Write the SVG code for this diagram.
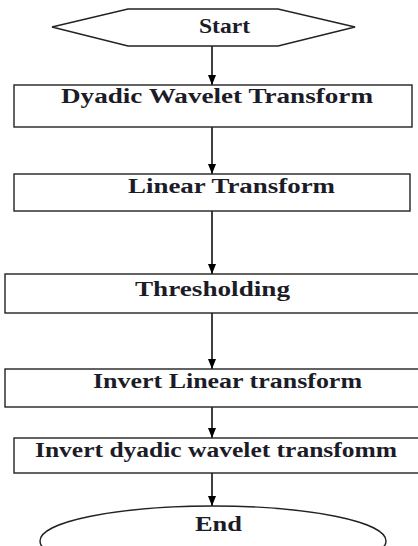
<svg xmlns="http://www.w3.org/2000/svg" width="418" height="546" viewBox="0 0 418 546">
<defs>
<marker id="ah" markerWidth="10" markerHeight="8" refX="10" refY="4" orient="auto" markerUnits="userSpaceOnUse">
<path d="M0,0 L10,4 L0,8 Z" fill="#000"/>
</marker>
<style>
.s{fill:#fff;stroke:#222;stroke-width:1.4}
.t{font-weight:bold;font-size:20px;fill:#1c1c28}
.c{stroke:#000;stroke-width:1.5;fill:none;marker-end:url(#ah)}
</style>
</defs>
<rect width="418" height="546" fill="#fff"/>
<g id="connectors">
<line class="c" x1="212" y1="46" x2="212" y2="85"/>
<line class="c" x1="212" y1="127" x2="212" y2="174"/>
<line class="c" x1="212" y1="211" x2="212" y2="274"/>
<line class="c" x1="212" y1="313" x2="212" y2="369"/>
<line class="c" x1="212" y1="407" x2="212" y2="438"/>
<line class="c" x1="212" y1="473" x2="212" y2="506"/>
</g>
<g id="start">
<polygon class="s" points="52,27 128,9 278,9 355,27 278,46 128,46"/>
<text class="t" font-family="Liberation Serif, DejaVu Serif, serif" x="199" y="33" textLength="51" lengthAdjust="spacingAndGlyphs">Start</text>
</g>
<g id="dwt">
<rect class="s" x="14" y="85" width="398" height="42"/>
<text class="t" font-family="Liberation Serif, DejaVu Serif, serif" x="61" y="103" textLength="312" lengthAdjust="spacingAndGlyphs">Dyadic Wavelet Transform</text>
</g>
<g id="lt">
<rect class="s" x="14" y="174" width="396" height="37"/>
<text class="t" font-family="Liberation Serif, DejaVu Serif, serif" x="128" y="193" textLength="207" lengthAdjust="spacingAndGlyphs">Linear Transform</text>
</g>
<g id="thr">
<rect class="s" x="5" y="274" width="420" height="39"/>
<text class="t" font-family="Liberation Serif, DejaVu Serif, serif" x="135" y="296" textLength="155" lengthAdjust="spacingAndGlyphs">Thresholding</text>
</g>
<g id="ilt">
<rect class="s" x="5" y="369" width="420" height="38"/>
<text class="t" font-family="Liberation Serif, DejaVu Serif, serif" x="93" y="388" textLength="269" lengthAdjust="spacingAndGlyphs">Invert Linear transform</text>
</g>
<g id="idwt">
<rect class="s" x="14" y="438" width="410" height="35"/>
<text class="t" font-family="Liberation Serif, DejaVu Serif, serif" x="35" y="457" textLength="362" lengthAdjust="spacingAndGlyphs">Invert dyadic wavelet transfomm</text>
</g>
<g id="end">
<ellipse class="s" cx="213" cy="541" rx="173" ry="35"/>
<text class="t" font-family="Liberation Serif, DejaVu Serif, serif" x="195" y="531" textLength="47" lengthAdjust="spacingAndGlyphs">End</text>
</g>
</svg>
